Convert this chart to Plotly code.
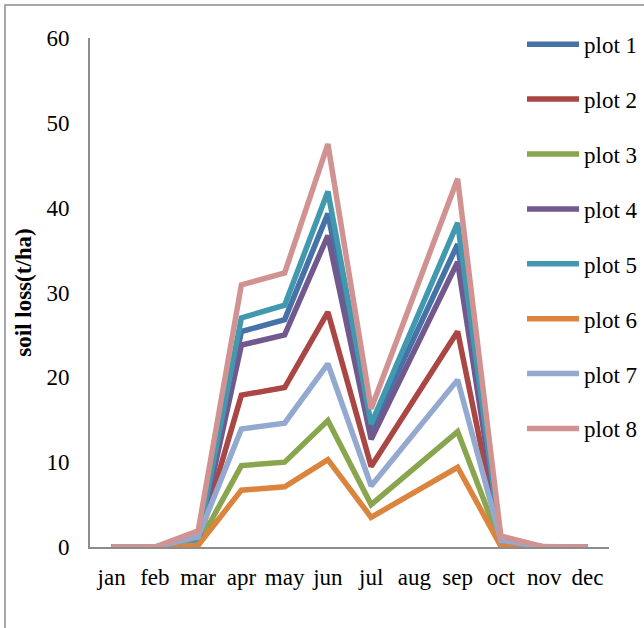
import plotly.graph_objects as go

months = ["jan", "feb", "mar", "apr", "may", "jun", "jul", "aug", "sep", "oct", "nov", "dec"]

plot1 = [0, 0, 0.5, 25.4, 26.8, 39.3, 13.8, None, 35.7, 0.5, 0, 0]
plot2 = [0, 0, 0.4, 17.9, 18.8, 27.7, 9.5, None, 25.4, 0.4, 0, 0]
plot3 = [0, 0, 0.3, 9.6, 10.0, 14.9, 5.0, None, 13.6, 0.3, 0, 0]
plot4 = [0, 0, 0.5, 23.8, 25.0, 36.7, 12.7, None, 33.6, 0.5, 0, 0]
plot5 = [0, 0, 0.8, 27.0, 28.5, 41.9, 14.5, None, 38.2, 0.6, 0, 0]
plot6 = [0, 0, 0.2, 6.7, 7.1, 10.3, 3.5, None, 9.4, 0.1, 0, 0]
plot7 = [0, 0, 1.2, 13.9, 14.6, 21.6, 7.2, None, 19.7, 0.8, 0, 0]
plot8 = [0, 0, 1.9, 30.9, 32.3, 47.5, 16.3, None, 43.4, 1.3, 0, 0]

series = [
    ("plot 1", plot1, "#4572A7"),
    ("plot 2", plot2, "#AA4643"),
    ("plot 3", plot3, "#89A54E"),
    ("plot 4", plot4, "#71588F"),
    ("plot 5", plot5, "#4198AF"),
    ("plot 6", plot6, "#DB843D"),
    ("plot 7", plot7, "#93A9CF"),
    ("plot 8", plot8, "#D19392"),
]

FONT = "Liberation Serif, Times New Roman, serif"

fig = go.Figure()
for name, vals, color in series:
    fig.add_trace(go.Scatter(
        x=months, y=vals, name=name, mode="lines", connectgaps=True,
        legendgroup=name,
        line=dict(color=color, width=5.5, shape="linear"),
    ))

fig.update_layout(
    width=644, height=628,
    margin=dict(l=90, r=35, t=38, b=81, autoexpand=False),
    paper_bgcolor="white", plot_bgcolor="white",
    font=dict(family=FONT, size=23, color="black"),
    showlegend=True,
    legend=dict(
        x=(522 - 90) / 519, y=1.03, xanchor="left", yanchor="top",
        bgcolor="rgba(0,0,0,0)", tracegroupgap=22,
        itemwidth=52, maxheight=600,
        font=dict(family=FONT, size=23, color="black"),
    ),
    xaxis=dict(
        type="category", categoryorder="array", categoryarray=months,
        range=[-0.5, 11.5], showgrid=False, zeroline=False,
        showline=True, linecolor="#8c8c8c", linewidth=2,
        ticks="", ticklabelstandoff=8, tickfont=dict(family=FONT, size=23),
    ),
    yaxis=dict(
        range=[0, 60], dtick=10, showgrid=False, zeroline=False,
        showline=True, linecolor="#8c8c8c", linewidth=2,
        ticks="", ticklabelstandoff=14, tickfont=dict(family=FONT, size=23),
        title=dict(text="<b>soil loss(t/ha)</b>", standoff=8,
                   font=dict(family=FONT, size=23)),
    ),
    shapes=[dict(
        type="rect", xref="paper", yref="paper",
        x0=(5 - 90) / 519, x1=2, y0=-1, y1=(547 - 5) / 509,
        line=dict(color="#8c8c8c", width=1.5), fillcolor="rgba(0,0,0,0)",
        layer="below",
    )],
)

fig.write_html("out.html")
